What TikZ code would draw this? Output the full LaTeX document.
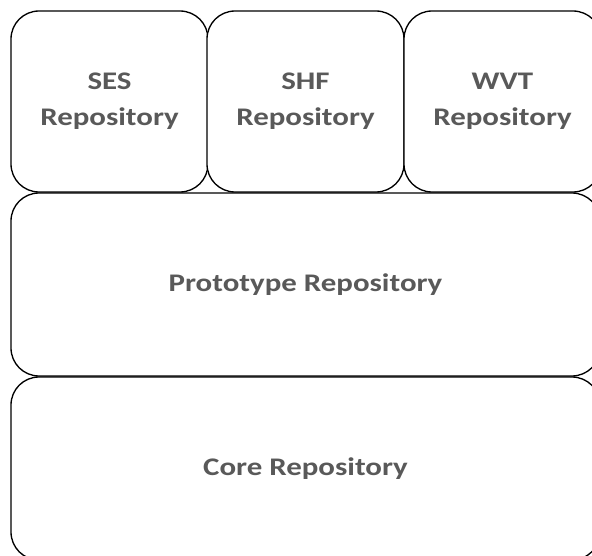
\documentclass[tikz,border=0pt]{standalone}
\usepackage{fontspec}
\setmainfont[FakeStretch=1.22]{Carlito}
\definecolor{repotext}{HTML}{595959}
\tikzset{
  repo/.style={draw=black, line width=1pt, rounded corners=21pt, fill=white,
    inner sep=0pt, align=center, text=repotext,
    font=\bfseries\fontsize{19}{27}\selectfont}
}
\begin{document}
\begin{tikzpicture}[x=0.75pt, y=-0.75pt]
\useasboundingbox (0,0) rectangle (592,556);
\clip (0,0) rectangle (592,556);
\node[repo, minimum width=197*0.75pt, minimum height=181*0.75pt] (ses) at (109.5, 101.5) {SES\\Repository};
\node[repo, minimum width=197*0.75pt, minimum height=181*0.75pt] (shf) at (305.5, 101.5) {SHF\\Repository};
\node[repo, minimum width=197*0.75pt, minimum height=181*0.75pt] (wvt) at (502.5, 101.5) {WVT\\Repository};
\node[repo, minimum width=589*0.75pt, minimum height=183*0.75pt] (proto) at (305.5, 284.5) {Prototype Repository};
\node[repo, minimum width=589*0.75pt, minimum height=183*0.75pt] (core) at (305.5, 468.5) {Core Repository};
\end{tikzpicture}
\end{document}
